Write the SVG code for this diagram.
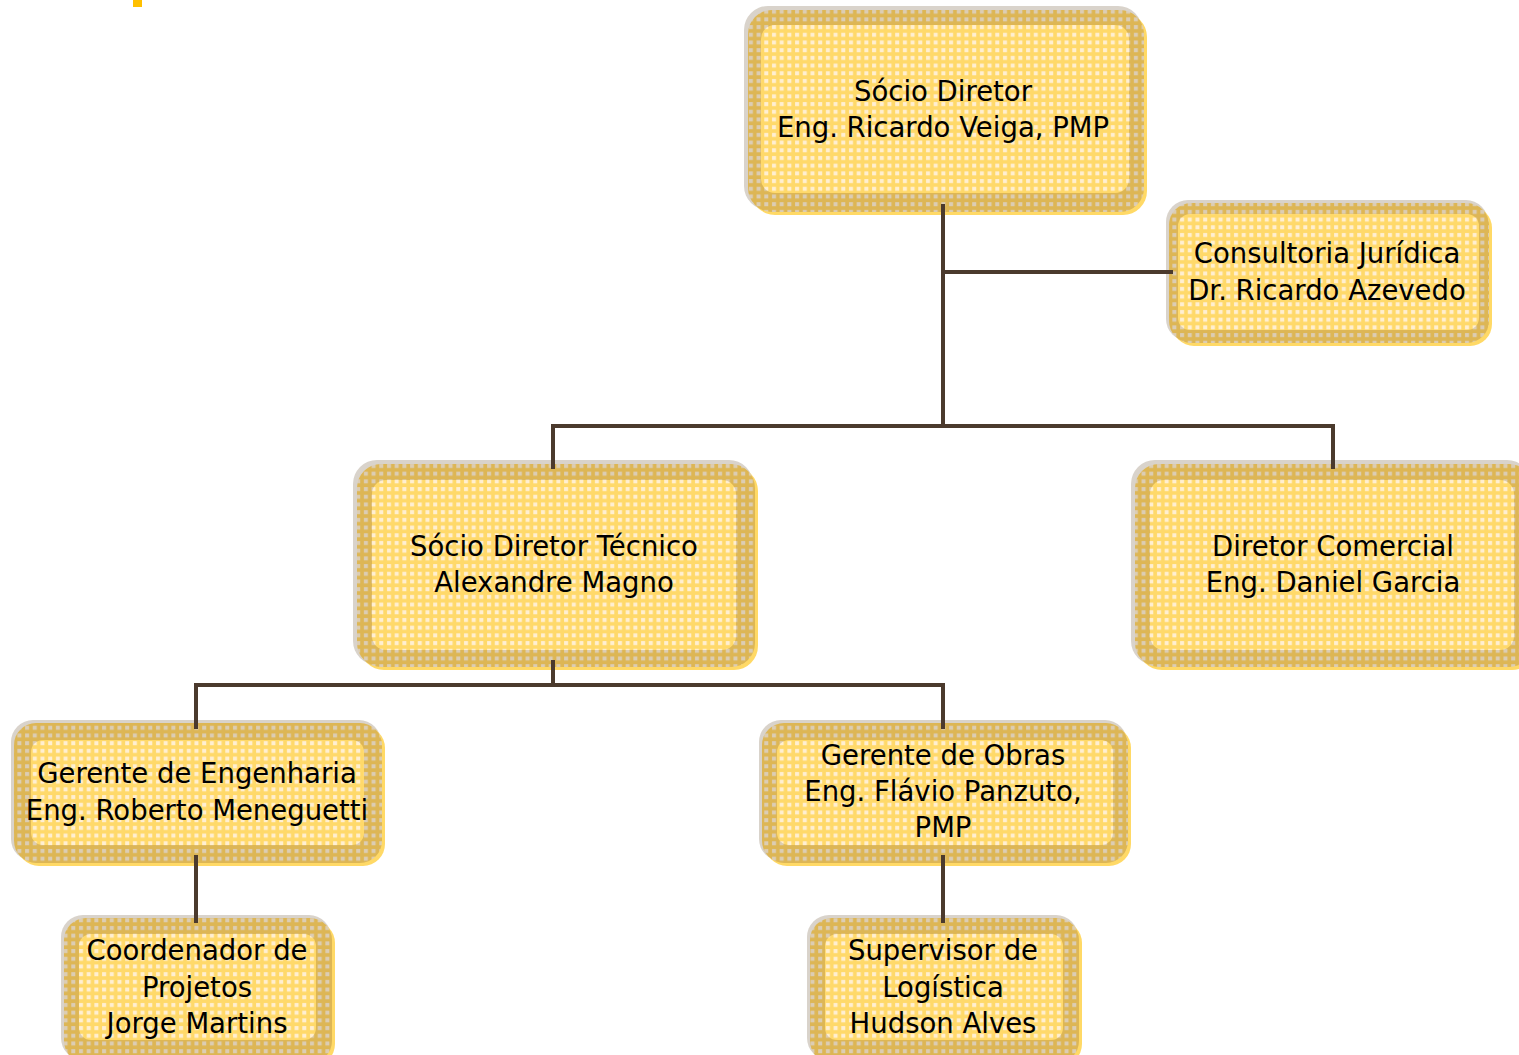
<svg xmlns="http://www.w3.org/2000/svg" width="1519" height="1055" viewBox="0 0 1519 1055">
<defs>
<pattern id="pOut" width="7.7" height="7.7" patternUnits="userSpaceOnUse">
<rect width="7.7" height="7.7" fill="#DDB655"/>
<rect x="2" y="2" width="4" height="4" fill="#DCCDB4"/>
</pattern>
<pattern id="pIn" width="7.7" height="7.7" patternUnits="userSpaceOnUse">
<rect width="7.7" height="7.7" fill="#FFD96A"/>
<rect x="2" y="2" width="4" height="4" fill="#FFEFD2"/>
</pattern>
</defs>
<style>
.sh{fill:#D9D3CB}
.hi{fill:#FFD966}
.ob{fill:url(#pOut)}
.ib{fill:url(#pIn)}
.t{font-family:"DejaVu Sans","Liberation Sans",sans-serif;font-size:27.5px;fill:#000;text-anchor:middle}
.c{stroke:#4B3A2D;stroke-width:4;fill:none}
</style>
<rect x="133" y="0" width="9" height="7" fill="#FFC000"/>

<g id="n1">
<rect class="sh" x="744" y="6" width="398" height="204" rx="24"/>
<rect class="hi" x="751" y="13" width="396" height="202" rx="24"/>
<rect class="ob" x="748" y="10" width="396" height="202" rx="24"/>
<rect class="ib" x="761" y="25" width="368" height="168" rx="14"/>
<text class="t" x="943" y="101">Sócio Diretor</text>
<text class="t" x="943" y="137">Eng. Ricardo Veiga, PMP</text>
</g>

<g id="n2">
<rect class="sh" x="1166" y="200" width="322" height="141" rx="22"/>
<rect class="hi" x="1172" y="206" width="320" height="140" rx="22"/>
<rect class="ob" x="1169" y="203" width="320" height="140" rx="22"/>
<rect class="ib" x="1178" y="214" width="301" height="116" rx="12"/>
<text class="t" x="1327" y="263">Consultoria Jurídica</text>
<text class="t" x="1327" y="300">Dr. Ricardo Azevedo</text>
</g>

<g id="n3">
<rect class="sh" x="353" y="460" width="400" height="205" rx="24"/>
<rect class="hi" x="360" y="467" width="398" height="203" rx="24"/>
<rect class="ob" x="357" y="464" width="398" height="203" rx="24"/>
<rect class="ib" x="372" y="480" width="364" height="170" rx="14"/>
<text class="t" x="554" y="556">Sócio Diretor Técnico</text>
<text class="t" x="554" y="592">Alexandre Magno</text>
</g>

<g id="n4">
<rect class="sh" x="1131" y="460" width="400" height="205" rx="24"/>
<rect class="hi" x="1138" y="467" width="398" height="203" rx="24"/>
<rect class="ob" x="1135" y="464" width="398" height="203" rx="24"/>
<rect class="ib" x="1150" y="480" width="364" height="170" rx="14"/>
<text class="t" x="1333" y="556">Diretor Comercial</text>
<text class="t" x="1333" y="592">Eng. Daniel Garcia</text>
</g>

<g id="n5">
<rect class="sh" x="11" y="720" width="370" height="141" rx="22"/>
<rect class="hi" x="17" y="726" width="368" height="140" rx="22"/>
<rect class="ob" x="14" y="723" width="368" height="140" rx="22"/>
<rect class="ib" x="31" y="740" width="333" height="105" rx="12"/>
<text class="t" x="197" y="783">Gerente de Engenharia</text>
<text class="t" x="197" y="820">Eng. Roberto Meneguetti</text>
</g>

<g id="n6">
<rect class="sh" x="759" y="720" width="368" height="141" rx="22"/>
<rect class="hi" x="765" y="726" width="366" height="140" rx="22"/>
<rect class="ob" x="762" y="723" width="366" height="140" rx="22"/>
<rect class="ib" x="777" y="740" width="336" height="105" rx="12"/>
<text class="t" x="943" y="765">Gerente de Obras</text>
<text class="t" x="943" y="801">Eng. Flávio Panzuto,</text>
<text class="t" x="943" y="837">PMP</text>
</g>

<g id="n7">
<rect class="sh" x="61" y="915" width="270" height="145" rx="22"/>
<rect class="hi" x="67" y="921" width="268" height="145" rx="22"/>
<rect class="ob" x="64" y="918" width="268" height="145" rx="22"/>
<rect class="ib" x="79" y="934" width="237" height="106" rx="12"/>
<text class="t" x="197" y="960">Coordenador de</text>
<text class="t" x="197" y="997">Projetos</text>
<text class="t" x="197" y="1033">Jorge Martins</text>
</g>

<g id="n8">
<rect class="sh" x="807" y="915" width="271" height="145" rx="22"/>
<rect class="hi" x="813" y="921" width="269" height="145" rx="22"/>
<rect class="ob" x="810" y="918" width="269" height="145" rx="22"/>
<rect class="ib" x="825" y="934" width="238" height="106" rx="12"/>
<text class="t" x="943" y="960">Supervisor de</text>
<text class="t" x="943" y="997">Logística</text>
<text class="t" x="943" y="1033">Hudson Alves</text>
</g>

<g id="connectors">
<path class="c" d="M943 204 V428 M943 272 H1173 M551 426 H1335 M553 424 V469 M1333 424 V469"/>
<path class="c" d="M553 660 V687 M194 685 H945 M196 683 V729 M943 683 V729"/>
<path class="c" d="M196 855 V923 M943 855 V923"/>
</g>
</svg>
